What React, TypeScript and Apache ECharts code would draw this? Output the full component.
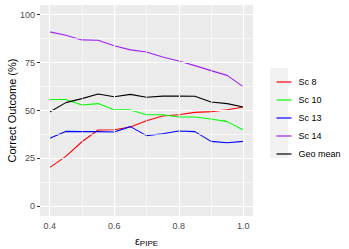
import React, { useEffect, useRef } from "react";
import * as echarts from "echarts";

const epsilon = [0.4, 0.45, 0.5, 0.55, 0.6, 0.65, 0.7, 0.75, 0.8, 0.85, 0.9, 0.95, 1.0];
const sc8 = [20.2, 26.1, 33.7, 39.8, 40.0, 41.4, 44.7, 47.1, 47.8, 49.0, 49.4, 50.4, 51.8];
const sc10 = [55.7, 55.7, 52.9, 53.6, 50.4, 50.3, 47.8, 47.8, 46.6, 46.6, 45.6, 44.2, 39.8];
const sc13 = [35.5, 39.1, 39.0, 39.0, 38.8, 41.6, 36.9, 37.9, 39.3, 39.0, 33.9, 33.2, 33.9];
const sc14 = [91.0, 89.2, 86.8, 86.6, 83.8, 81.6, 80.5, 77.9, 75.8, 73.4, 70.8, 68.3, 62.3];
const geoMean = [49.2, 54.1, 56.2, 58.6, 57.2, 58.4, 56.9, 57.5, 57.5, 57.4, 54.4, 53.6, 51.8];

const seriesNames = ["Sc 8", "Sc 10", "Sc 13", "Sc 14", "Geo mean"];
const seriesColors = ["#FF0000", "#00FF00", "#0000FF", "#A020F0", "#000000"];
const seriesValues = [sc8, sc10, sc13, sc14, geoMean];

const xTicks = [0.4, 0.6, 0.8, 1.0];
const xMinor = [0.5, 0.7, 0.9];
const yTicks = [0, 25, 50, 75, 100];
const yMinor = [12.5, 37.5, 62.5, 87.5];

export default function App() {
  const ref = useRef<HTMLDivElement>(null);
  useEffect(() => {
    if (!ref.current) return;
    const chart = echarts.init(ref.current, undefined, { renderer: "svg" });
    const font = "Liberation Sans, Arial, Helvetica, sans-serif";
    const grid = (v: number[], key: string, w: number) =>
      v.map((d) => ({ [key]: d, lineStyle: { color: "#FFFFFF", width: w, type: "solid" } }));
    const dataSeries = seriesNames.map((name, i) => ({
      name,
      type: "line",
      data: epsilon.map((x, j) => [x, seriesValues[i][j]]),
      symbol: "none",
      z: 3,
      lineStyle: { color: seriesColors[i], width: 1.1 },
      itemStyle: { color: seriesColors[i] },
    }));
    chart.setOption({
      animation: false,
      backgroundColor: "#FFFFFF",
      textStyle: { fontFamily: font },
      grid: {
        left: 40,
        top: 5,
        width: 213,
        height: 211,
        show: true,
        backgroundColor: "#EBEBEB",
        borderWidth: 0,
        outerBoundsMode: "none",
        containLabel: false,
      },
      graphic: [
        {
          type: "rect",
          left: 270,
          top: 68,
          shape: { width: 18, height: 90 },
          style: { fill: "#F2F2F2" },
          z: -1,
        },
      ],
      legend: {
        data: seriesNames.map((n) => ({ name: n, icon: "rect" })),
        orient: "vertical",
        left: 271.5,
        top: 68,
        itemWidth: 15,
        itemHeight: 1.2,
        itemGap: 0,
        textStyle: { fontSize: 9, color: "#000", fontFamily: font, padding: [0, 0, 0, 2], lineHeight: 18, height: 18 },
      },
      xAxis: {
        type: "value",
        min: 0.37,
        max: 1.03,
        axisLine: { show: false },
        splitLine: { show: false },
        axisTick: { show: true, customValues: xTicks, length: 3, lineStyle: { color: "#333333", width: 1 } },
        axisLabel: {
          customValues: xTicks,
          formatter: (v: number) => v.toFixed(1),
          color: "#4D4D4D",
          fontSize: 9,
          margin: 5,
          fontFamily: font,
        },
        name: "{e|ε}{s|PIPE}",
        nameLocation: "middle",
        nameGap: 18,
        nameMoveOverlap: false,
        nameTextStyle: {
          rich: {
            e: { fontSize: 11, color: "#000", fontFamily: font },
            s: { fontSize: 8, color: "#000", fontFamily: font, padding: [5, 0, 0, 0] },
          },
        },
      },
      yAxis: {
        type: "value",
        min: -5,
        max: 105,
        axisLine: { show: false },
        splitLine: { show: false },
        axisTick: { show: true, customValues: yTicks, length: 3, lineStyle: { color: "#333333", width: 1 } },
        axisLabel: {
          customValues: yTicks,
          color: "#4D4D4D",
          fontSize: 9,
          margin: 5,
          fontFamily: font,
        },
        name: "Correct Outcome (%)",
        nameLocation: "middle",
        nameGap: 23,
        nameMoveOverlap: false,
        nameTextStyle: { fontSize: 11, color: "#000", fontFamily: font },
      },
      series: [
        {
          name: "grid",
          type: "line",
          data: [],
          z: 1,
          silent: true,
          markLine: {
            silent: true,
            symbol: ["none", "none"],
            label: { show: false },
            animation: false,
            data: [
              ...grid(xMinor, "xAxis", 0.6),
              ...grid(yMinor, "yAxis", 0.6),
              ...grid(xTicks, "xAxis", 1.2),
              ...grid(yTicks, "yAxis", 1.2),
            ],
          },
        },
        ...dataSeries,
      ],
    });
    return () => chart.dispose();
  }, []);
  return <div ref={ref} style={{ position: "fixed", left: 0, top: 0, width: 349, height: 249 }} />;
}
